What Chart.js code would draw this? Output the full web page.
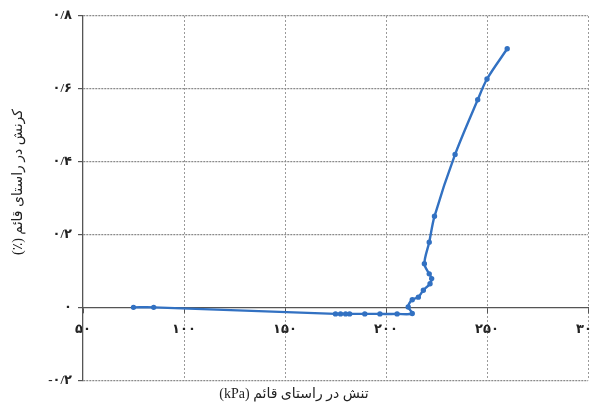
<!DOCTYPE html>
<html>
<head>
<meta charset="utf-8">
<script src="https://cdn.jsdelivr.net/npm/chart.js@4"></script>
<style>
  html, body { margin: 0; padding: 0; background: #fff; }
  #wrap { width: 593px; height: 410px; position: relative; }
</style>
</head>
<body>
<div id="wrap"><canvas id="chart"></canvas></div>
<script>
// stress (kPa) vs vertical strain (%)
const stress = [75, 85, 175, 177.5, 180, 182, 189.5, 197, 205.5, 213, 211, 213, 216, 218.5, 221.8, 222.6, 221.4, 219, 221.4, 224, 234.2, 245.4, 250, 260];
const strain = [0, 0, -0.018, -0.018, -0.018, -0.018, -0.018, -0.018, -0.018, -0.017, 0.001, 0.021, 0.028, 0.047, 0.065, 0.079, 0.092, 0.12, 0.179, 0.25, 0.42, 0.57, 0.627, 0.71];

const xTickLabels = ['۵۰', '۱۰۰', '۱۵۰', '۲۰۰', '۲۵۰', '۳۰۰'];
const yTickLabels = ['-۰/۲', '۰', '۰/۲', '۰/۴', '۰/۶', '۰/۸'];

const xTitle = '\u202Bتنش در راستای قائم (kPa)\u202C';
const yTitle = '\u202Bکرنش در راستای قائم (٪)\u202C';

const FONT = "'Liberation Serif', 'DejaVu Sans', serif";
const BLUE = '#3271c2';

const points = stress.map((x, i) => ({ x, y: strain[i] }));

// y axis title drawn by hand so it can sit where the original has it
const yTitlePlugin = {
  id: 'yTitle',
  afterDraw(chart) {
    const ctx = chart.ctx;
    ctx.save();
    ctx.translate(18, 182);
    ctx.rotate(-Math.PI / 2);
    ctx.font = '14px ' + FONT;
    ctx.fillStyle = '#222';
    ctx.textAlign = 'center';
    ctx.textBaseline = 'middle';
    ctx.fillText(yTitle, 0, 0);
    ctx.restore();
  },
};

new Chart(document.getElementById('chart'), {
  type: 'scatter',
  data: {
    datasets: [{
      data: points,
      showLine: true,
      borderColor: BLUE,
      backgroundColor: BLUE,
      borderWidth: 2.4,
      pointRadius: 1.5,
      pointHoverRadius: 1.5,
      tension: 0.3,
    }],
  },
  options: {
    responsive: true,
    maintainAspectRatio: false,
    animation: false,
    layout: { padding: { top: 16, right: 5, left: 0, bottom: 0 } },
    plugins: {
      legend: { display: false },
      tooltip: { enabled: false },
      title: {
        display: true,
        position: 'bottom',
        text: xTitle,
        color: '#222',
        font: { family: FONT, size: 14, weight: 'normal' },
        padding: { top: 6, bottom: 7 },
      },
    },
    scales: {
      x: {
        type: 'linear',
        position: { y: 0 },
        min: 50,
        max: 300,
        ticks: {
          stepSize: 50,
          color: '#222',
          padding: 9,
          maxRotation: 0,
          font: { family: FONT, size: 13, weight: 'bold' },
          callback: (v, i) => xTickLabels[i],
        },
        grid: {
          color: (c) => (c.tick && c.tick.value === 50 ? 'rgba(0,0,0,0)' : '#9a9a9a'),
          lineWidth: 1,
          tickLength: 5,
          tickColor: '#555',
        },
        border: { display: true, color: '#555', width: 1.3, dash: [2, 2] },
        afterFit: (s) => { s.paddingLeft = 0; s.paddingRight = 0; },
      },
      y: {
        type: 'linear',
        min: -0.2,
        max: 0.8,
        ticks: {
          stepSize: 0.2,
          color: '#222',
          padding: 6,
          font: { family: FONT, size: 13, weight: 'bold' },
          callback: (v, i) => yTickLabels[i],
        },
        grid: {
          color: (c) => (c.tick && Math.abs(c.tick.value) < 1e-9 ? 'rgba(0,0,0,0)' : '#8a8a8a'),
          lineWidth: 1.2,
          tickLength: 5,
          tickColor: '#555',
        },
        border: { display: true, color: '#555', width: 1.3, dash: [2, 1] },
        afterFit: (s) => { s.width = 83; s.paddingTop = 0; s.paddingBottom = 0; },
      },
    },
  },
  plugins: [yTitlePlugin],
});
</script>
</body>
</html>
